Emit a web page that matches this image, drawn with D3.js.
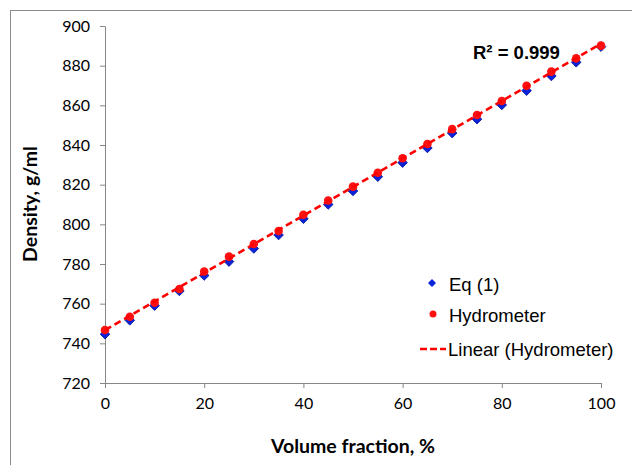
<!DOCTYPE html>
<html><head><meta charset="utf-8">
<script src="https://cdn.jsdelivr.net/npm/d3@7"></script>
<style>body{margin:0;background:#fff}svg{display:block}</style>
</head><body>
<script>
const volumeFraction = [0,5,10,15,20,25,30,35,40,45,50,55,60,65,70,75,80,85,90,95,100];
const eq1 = [744.6,751.6,759.0,766.4,774.2,781.2,787.8,794.6,802.8,810.0,816.8,824.0,831.1,838.5,846.0,853.0,860.2,867.4,874.8,881.7,889.6];
const hydrometer = [746.7,753.4,760.5,767.4,776.2,783.7,790.1,796.6,804.8,812.0,819.0,826.0,833.3,840.5,848.0,855.1,862.2,869.9,877.0,883.7,890.1];
const xTicks = [0,20,40,60,80,100];
const yTicks = [720,740,760,780,800,820,840,860,880,900];
const legendLabels = ["Eq (1)","Hydrometer","Linear (Hydrometer)"];
const r2Label = "R² = 0.999";

const W=632,H=465;
const svg=d3.select("body").append("svg").attr("width",W).attr("height",H);
svg.append("rect").attr("x",10.5).attr("y",10.5).attr("width",W+20).attr("height",H+20)
  .attr("fill","#fff").attr("stroke","#8c8c8c");

const x=d3.scaleLinear().domain([0,100]).range([105,601]);
const y=d3.scaleLinear().domain([720,900]).range([383,26]);
const axisColor="#868686";
const tickFont="Lato, 'Open Sans', sans-serif";

const gx=svg.append("g").attr("transform","translate(0,383)")
  .call(d3.axisBottom(x).tickValues(xTicks).tickSize(5).tickSizeOuter(0).tickPadding(10));
const gy=svg.append("g").attr("transform","translate(105,0)")
  .call(d3.axisLeft(y).tickValues(yTicks).tickSize(5).tickSizeOuter(0).tickPadding(10));
[gx,gy].forEach(g=>{
  g.selectAll("path,line").attr("stroke",axisColor).attr("stroke-width",1);
  g.selectAll("text").attr("font-family",tickFont).attr("font-size",16).attr("fill","#000");
});

// regression for trend line
const n=volumeFraction.length;
const mx=d3.mean(volumeFraction), my=d3.mean(hydrometer);
let sxy=0,sxx=0;
for(let i=0;i<n;i++){sxy+=(volumeFraction[i]-mx)*(hydrometer[i]-my);sxx+=(volumeFraction[i]-mx)**2;}
const slope=sxy/sxx, icpt=my-slope*mx;

const dia="M0,-4.8L4.8,0L0,4.8L-4.8,0Z";
svg.append("g").selectAll("path").data(volumeFraction).join("path")
  .attr("d",dia).attr("transform",(d,i)=>`translate(${x(d)},${y(eq1[i])})`)
  .attr("fill","#0a22d8").attr("stroke","#00109a").attr("stroke-width",0.8);
svg.append("g").selectAll("circle").data(volumeFraction).join("circle")
  .attr("cx",d=>x(d)).attr("cy",(d,i)=>y(hydrometer[i])).attr("r",4.3)
  .attr("fill","#ff1010");
const trendX=[0,100];
svg.append("path").datum(trendX)
  .attr("d",d3.line().x(d=>x(d)).y(d=>y(icpt+slope*d)))
  .attr("stroke","#ff0000").attr("stroke-width",2.6).attr("stroke-dasharray","7,4").attr("fill","none");

svg.append("text").attr("x",473).attr("y",59).text(r2Label)
  .attr("font-family","'Liberation Sans', Arial, sans-serif").attr("font-weight","bold").attr("font-size",18.5);

// axis titles
svg.append("text").attr("x",353).attr("y",453).attr("text-anchor","middle").text("Volume fraction, %")
  .attr("font-family",tickFont).attr("font-weight","bold").attr("font-size",19.5);
svg.append("text").attr("transform","translate(37,204) rotate(-90)").attr("text-anchor","middle").text("Density, g/ml")
  .attr("font-family",tickFont).attr("font-weight","bold").attr("font-size",19.5);

// legend
const lf="'Liberation Sans', Arial, sans-serif";
const lg=svg.append("g");
lg.append("path").attr("d","M0,-4L4,0L0,4L-4,0Z").attr("transform","translate(432,283)").attr("fill","#0a22d8");
lg.append("circle").attr("cx",433).attr("cy",314).attr("r",3.5).attr("fill","#ff1010");
lg.append("line").attr("x1",420).attr("x2",446).attr("y1",349).attr("y2",349).attr("stroke","#ff0000").attr("stroke-width",2.6).attr("stroke-dasharray","7,3");
[[449,291],[449,322],[448,356]].forEach((p,i)=>{
  lg.append("text").attr("x",p[0]).attr("y",p[1]).text(legendLabels[i]).attr("font-family",lf).attr("font-size",18.5);
});
</script>
</body></html>
